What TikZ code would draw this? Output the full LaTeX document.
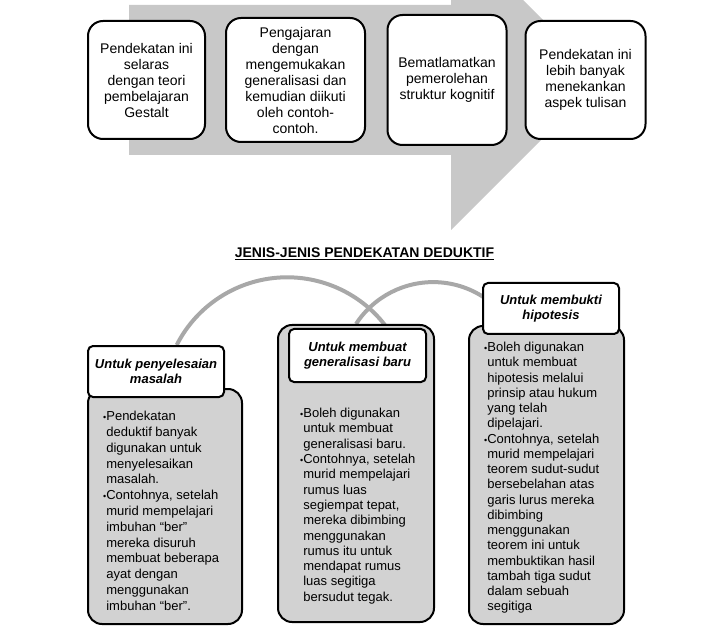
\documentclass[tikz,border=0pt]{standalone}
\usepackage{fontspec}
\setmainfont{Liberation Sans}
\usetikzlibrary{positioning, calc, backgrounds}

\definecolor{arrowgrey}{RGB}{200,200,200}
\definecolor{bodygrey}{RGB}{210,210,210}
\definecolor{arcgrey}{RGB}{168,168,168}

\newcommand{\bul}{{\fontsize{9}{9}\selectfont\textbullet}}
\newcommand{\ind}{\phantom{\bul}}

\tikzset{
    topbox/.style={draw, line width=2pt, rounded corners=15pt, fill=white, align=center,
        font=\fontsize{14}{16}\selectfont, inner sep=2pt},
    bodybox/.style={draw, line width=2pt, rounded corners=14pt, fill=bodygrey},
    headbox/.style={draw, line width=2pt, rounded corners=5pt, fill=white, align=center,
        font=\fontsize{13}{15}\selectfont\bfseries\itshape},
    bodytext/.style={anchor=north west, align=left, inner sep=0pt,
        font=\fontsize{13}{15.8}\selectfont},
    arcline/.style={draw=arcgrey, line width=4pt},
}

\begin{document}
\begin{tikzpicture}[x=1pt,y=1pt,on grid]
    \useasboundingbox (0,0) rectangle (728,630);
    \clip (0,0) rectangle (728,630);

    % big arrow behind the top row
    \fill[arrowgrey] (129,625) -- (451,625) -- (451,702) -- (602,551)
        -- (451,400) -- (451,475) -- (129,475) -- cycle;

    \node[topbox, minimum width=117pt, minimum height=118pt] (p1) at (146.5,550)
        {Pendekatan ini\\selaras\\dengan teori\\pembelajaran\\Gestalt};
    \node[topbox, minimum width=139pt, minimum height=124pt] (p2) [right=149pt of p1]
        {Pengajaran\\dengan\\mengemukakan\\generalisasi dan\\kemudian diikuti\\oleh contoh-\\contoh.};
    \node[topbox, minimum width=119pt, minimum height=130pt] (p3) [right=151.5pt of p2]
        {Bematlamatkan\\pemerolehan\\struktur kognitif};
    \node[topbox, minimum width=120pt, minimum height=118pt] (p4) [right=138.5pt of p3]
        {Pendekatan ini\\lebih banyak\\menekankan\\aspek tulisan};

    \node[anchor=base, font=\fontsize{14}{16}\selectfont\bfseries] (title) at (364.5,372)
        {\underline{JENIS-JENIS PENDEKATAN DEDUKTIF}};

    % the three kinds
    \node[bodybox, minimum width=154pt, minimum height=235pt] (b1) at (165,123.5) {};
    \node[headbox, minimum width=136pt, minimum height=51pt] (h1) at (156,258.5)
        {Untuk penyelesaian\\masalah};
    \node[bodybox, minimum width=156pt, minimum height=297pt] (b2) at (356,156.5) {};
    \node[headbox, minimum width=137pt, minimum height=53pt] (h2) at (357.5,274.5)
        {Untuk membuat\\generalisasi baru};
    \node[bodybox, minimum width=155pt, minimum height=298pt] (b3) at (546.5,155) {};
    \node[headbox, minimum width=136pt, minimum height=51pt] (h3) at (551,321.5)
        {Untuk membukti\\hipotesis};

    \node[bodytext] (t1) at ($(b1.north west)+(16pt,-23pt)$)
        {\bul Pendekatan\\\ind deduktif banyak\\\ind digunakan untuk\\\ind menyelesaikan\\\ind masalah.\\
         \bul Contohnya, setelah\\\ind murid mempelajari\\\ind imbuhan “ber”\\\ind mereka disuruh\\
         \ind membuat beberapa\\\ind ayat dengan\\\ind menggunakan\\\ind imbuhan “ber”.};
    \node[bodytext, font=\fontsize{13}{15.3}\selectfont] (t2) at ($(b2.north west)+(23pt,-84pt)$)
        {\bul Boleh digunakan\\\ind untuk membuat\\\ind generalisasi baru.\\
         \bul Contohnya, setelah\\\ind murid mempelajari\\\ind rumus luas\\\ind segiempat tepat,\\
         \ind mereka dibimbing\\\ind menggunakan\\\ind rumus itu untuk\\\ind mendapat rumus\\
         \ind luas segitiga\\\ind bersudut tegak.};
    \node[bodytext, font=\fontsize{13}{15.25}\selectfont] (t3) at ($(b3.north west)+(16pt,-17pt)$)
        {\bul Boleh digunakan\\\ind untuk membuat\\\ind hipotesis melalui\\\ind prinsip atau hukum\\
         \ind yang telah\\\ind dipelajari.\\
         \bul Contohnya, setelah\\\ind murid mempelajari\\\ind teorem sudut-sudut\\
         \ind bersebelahan atas\\\ind garis lurus mereka\\\ind dibimbing\\\ind menggunakan\\
         \ind teorem ini untuk\\\ind membuktikan hasil\\\ind tambah tiga sudut\\
         \ind dalam sebuah\\\ind segitiga};

    % grey arcs running behind the boxes
    \begin{scope}[on background layer]
        \draw[arcline] (h1.52) arc[start angle=153, end angle=38, radius=124pt];
        \draw[arcline] (b2.north) arc[start angle=147, end angle=55, radius=92pt];
    \end{scope}
\end{tikzpicture}
\end{document}
